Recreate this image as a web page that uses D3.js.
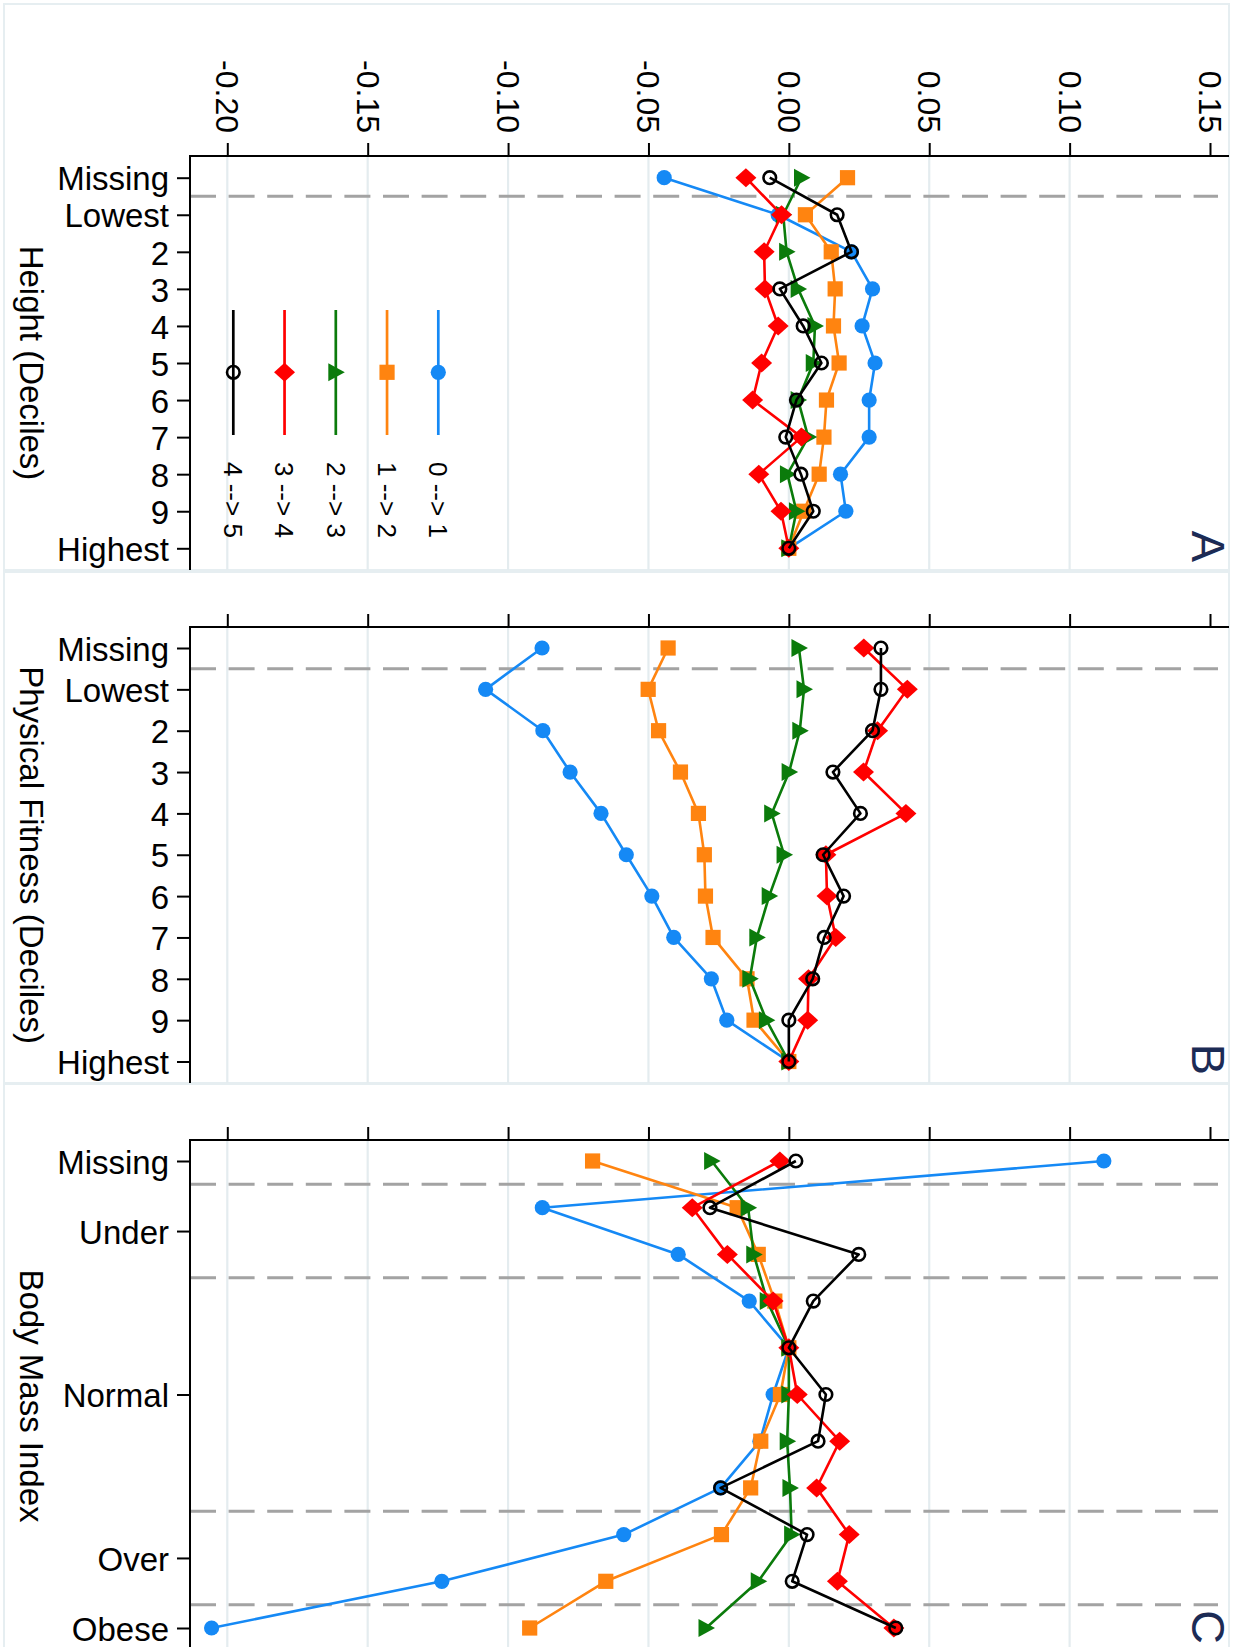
<!DOCTYPE html>
<html><head><meta charset="utf-8">
<script src="https://cdn.jsdelivr.net/npm/d3@7"></script>
<style>
body{margin:0;background:#fff}
text{font-family:"Liberation Sans",Arial,Helvetica,sans-serif}
</style>
</head><body>
<svg id="chart" width="1245" height="1647"></svg>
<script>
// ---------- data ----------
const seriesNames = ["0 --> 1", "1 --> 2", "2 --> 3", "3 --> 4", "4 --> 5"];
const valueTicks = [-0.20, -0.15, -0.10, -0.05, 0.00, 0.05, 0.10, 0.15];
const valueTickLabels = ["-0.20", "-0.15", "-0.10", "-0.05", "0.00", "0.05", "0.10", "0.15"];
const decileCategories = ["Missing", "Lowest", "2", "3", "4", "5", "6", "7", "8", "9", "Highest"];
const bmiPositions = [0, 1, 2, 3, 4, 5, 6, 7, 8, 9, 10];
const bmiTickPositions = [0, 1.5, 5, 8.5, 10];
const bmiTickLabels = ["Missing", "Under", "Normal", "Over", "Obese"];
const bmiGroupBreaks = [0.5, 2.5, 7.5, 9.5];
const panelTitles = ["Height (Deciles)", "Physical Fitness (Deciles)", "Body Mass Index"];
const panelLetters = ["A", "B", "C"];

// Panel A: Height
const height_0to1 = [-0.0444, -0.0038, 0.0223, 0.0298, 0.0261, 0.0307, 0.0286, 0.0286, 0.0184, 0.0203, 0];
const height_1to2 = [0.0209, 0.0059, 0.0151, 0.0165, 0.0159, 0.0179, 0.0134, 0.0125, 0.0108, 0.0053, 0];
const height_2to3 = [0.0045, -0.0020, -0.0008, 0.0033, 0.0093, 0.0087, 0.0033, 0.0069, -0.0005, 0.0027, 0];
const height_3to4 = [-0.0153, -0.0026, -0.0088, -0.0085, -0.0038, -0.0097, -0.0129, 0.0045, -0.0107, -0.0028, 0];
const height_4to5 = [-0.0068, 0.0172, 0.0223, -0.0032, 0.0051, 0.0116, 0.0027, -0.0011, 0.0043, 0.0087, 0];

// Panel B: Physical fitness
const fitness_0to1 = [-0.0879, -0.1080, -0.0876, -0.0779, -0.0669, -0.0579, -0.0488, -0.0410, -0.0276, -0.0221, 0];
const fitness_1to2 = [-0.0430, -0.0501, -0.0464, -0.0386, -0.0322, -0.0301, -0.0297, -0.0270, -0.0149, -0.0124, 0];
const fitness_2to3 = [0.0036, 0.0054, 0.0039, 0.0001, -0.0061, -0.0017, -0.0070, -0.0114, -0.0139, -0.0080, 0];
const fitness_3to4 = [0.0267, 0.0422, 0.0316, 0.0266, 0.0417, 0.0132, 0.0136, 0.0167, 0.0070, 0.0067, 0];
const fitness_4to5 = [0.0328, 0.0328, 0.0298, 0.0157, 0.0255, 0.0122, 0.0195, 0.0126, 0.0085, 0.0000, 0];

// Panel C: Body mass index
const bmi_0to1 = [0.1122, -0.0878, -0.0394, -0.0141, 0, -0.0056, -0.0103, -0.0243, -0.0588, -0.1236, -0.2056];
const bmi_1to2 = [-0.0699, -0.0184, -0.0109, -0.0050, 0, -0.0030, -0.0100, -0.0136, -0.0240, -0.0652, -0.0923];
const bmi_2to3 = [-0.0275, -0.0145, -0.0125, -0.0077, 0, 0.0000, -0.0006, 0.0004, 0.0010, -0.0109, -0.0295];
const bmi_3to4 = [-0.0032, -0.0344, -0.0219, -0.0056, 0, 0.0030, 0.0181, 0.0099, 0.0215, 0.0173, 0.0374];
const bmi_4to5 = [0.0025, -0.0281, 0.0249, 0.0087, 0, 0.0132, 0.0104, -0.0243, 0.0065, 0.0012, 0.0381];

// ---------- styling / layout ----------
const colors = ["#1589f5", "#ff8410", "#0b7b0b", "#ff0000", "#000000"];
const svg = d3.select("#chart");
const FONT = 33;
const axisX = 190, rightX = 1229, leftX = 4;
const x = d3.scaleLinear().domain([-0.20, 0.15]).range([227.3, 1210]);

const panels = [
  { top: 4, bottom: 570, axisY: 156,
    y: d3.scalePoint().domain(decileCategories).range([177.7, 548.3]),
    cats: decileCategories, breaks: [0.5], series: [height_0to1, height_1to2, height_2to3, height_3to4, height_4to5],
    tickLabels: true, legend: true, ordinal: true },
  { top: 572, bottom: 1083, axisY: 627,
    y: d3.scalePoint().domain(decileCategories).range([648, 1061.5]),
    cats: decileCategories, breaks: [0.5], series: [fitness_0to1, fitness_1to2, fitness_2to3, fitness_3to4, fitness_4to5],
    tickLabels: false, legend: false, ordinal: true },
  { top: 1084, bottom: 1652, axisY: 1140,
    y: d3.scaleLinear().domain([0, 10]).range([1161, 1628]),
    cats: bmiPositions, breaks: bmiGroupBreaks, series: [bmi_0to1, bmi_1to2, bmi_2to3, bmi_3to4, bmi_4to5],
    tickLabels: false, legend: false, ordinal: false }
];

function drawMarker(g, i, cx, cy) {
  const c = colors[i];
  if (i === 0) g.append("circle").attr("cx", cx).attr("cy", cy).attr("r", 7.6).attr("fill", c);
  else if (i === 1) g.append("rect").attr("x", cx - 7.6).attr("y", cy - 7.6).attr("width", 15.2).attr("height", 15.2).attr("fill", c);
  else if (i === 2) g.append("path").attr("d", `M${cx - 7.5},${cy - 9}L${cx + 9},${cy}L${cx - 7.5},${cy + 9}Z`).attr("fill", c);
  else if (i === 3) g.append("path").attr("d", `M${cx - 10.5},${cy}L${cx},${cy - 9.5}L${cx + 10.5},${cy}L${cx},${cy + 9.5}Z`).attr("fill", c);
  else g.append("circle").attr("cx", cx).attr("cy", cy).attr("r", 6.3).attr("fill", "none").attr("stroke", c).attr("stroke-width", 2.6);
}

panels.forEach((p, pi) => {
  const g = svg.append("g");
  // panel frame
  g.append("rect").attr("x", leftX).attr("y", p.top).attr("width", rightX - leftX).attr("height", p.bottom - p.top)
    .attr("fill", "none").attr("stroke", "#e6eef1").attr("stroke-width", 2);

  // grid lines
  g.selectAll(".grid").data(valueTicks.filter(v => v < 0.149)).enter().append("line")
    .attr("x1", d => x(d)).attr("x2", d => x(d)).attr("y1", p.axisY).attr("y2", p.bottom)
    .attr("stroke", "#e4ecef").attr("stroke-width", 2.2);

  // dashed group separators
  const yAt = v => p.ordinal ? p.y(p.cats[Math.floor(v)]) + (p.y(p.cats[Math.ceil(v)]) - p.y(p.cats[Math.floor(v)])) * (v - Math.floor(v)) : p.y(v);
  g.selectAll(".dash").data(p.breaks).enter().append("line")
    .attr("x1", axisX).attr("x2", 1218).attr("y1", d => yAt(d)).attr("y2", d => yAt(d))
    .attr("stroke", "#a3a3a3").attr("stroke-width", 3).attr("stroke-dasharray", "26,12.6");

  // top value axis
  const top = d3.axisTop(x).tickValues(valueTicks).tickSize(13).tickSizeOuter(0)
    .tickFormat((d, i) => p.tickLabels ? valueTickLabels[i] : "");
  const ta = g.append("g").attr("transform", `translate(0,${p.axisY})`).call(top);
  ta.select(".domain").remove();
  ta.selectAll(".tick line").attr("stroke", "#000").attr("stroke-width", 2);
  ta.selectAll(".tick text").attr("font-size", 32).attr("fill", "#000")
    .attr("x", 0).attr("y", 0).attr("dy", "0.36em").attr("text-anchor", "end")
    .attr("transform", "translate(0,-23) rotate(90)");
  g.append("line").attr("x1", axisX - 1).attr("x2", rightX).attr("y1", p.axisY).attr("y2", p.axisY)
    .attr("stroke", "#000").attr("stroke-width", 2);

  // left category axis
  let left = d3.axisLeft(p.y).tickSize(13).tickPadding(8).tickSizeOuter(0);
  if (!p.ordinal) left = left.tickValues(bmiTickPositions).tickFormat((d, i) => bmiTickLabels[i]);
  const la = g.append("g").attr("transform", `translate(${axisX},0)`).call(left);
  la.select(".domain").remove();
  la.selectAll(".tick line").attr("stroke", "#000").attr("stroke-width", 2);
  la.selectAll(".tick text").attr("font-size", FONT).attr("fill", "#000").attr("dy", "0.37em");
  g.append("line").attr("x1", axisX).attr("x2", axisX).attr("y1", p.axisY - 1).attr("y2", p.bottom)
    .attr("stroke", "#000").attr("stroke-width", 2);

  // axis title
  const cy = (p.axisY + p.bottom) / 2;
  g.append("text").attr("transform", `translate(19.5,${cy}) rotate(90)`).attr("text-anchor", "middle")
    .attr("font-size", FONT).attr("fill", "#000").text(panelTitles[pi]);

  // panel letter
  g.append("text").attr("transform", `translate(1192,${p.bottom - 8}) rotate(90)`).attr("text-anchor", "end")
    .attr("font-size", 47).attr("fill", "#1c2b55").text(panelLetters[pi]);

  // series
  p.series.forEach((vals, si) => {
    const sg = g.append("g");
    const pts = vals.map((v, k) => ({ v, c: p.cats[k] }));
    const line = d3.line().x(d => x(d.v)).y(d => p.y(d.c));
    sg.append("path").attr("d", line(pts)).attr("fill", "none").attr("stroke", colors[si])
      .attr("stroke-width", 2.6).attr("stroke-linejoin", "round");
    pts.forEach(d => drawMarker(sg, si, x(d.v), p.y(d.c)));
  });

  // legend
  if (p.legend) {
    seriesNames.forEach((name, si) => {
      const lx = 438.3 - si * 51.25;
      const lg = g.append("g");
      lg.append("line").attr("x1", lx).attr("x2", lx).attr("y1", 310).attr("y2", 435)
        .attr("stroke", colors[si]).attr("stroke-width", 2.7);
      drawMarker(lg, si, lx, 372.3);
      lg.append("text").attr("transform", `translate(${lx},462) rotate(90)`).attr("dy", "0.35em")
        .attr("text-anchor", "start").attr("font-size", 26).attr("fill", "#000").text(name);
    });
  }
});
</script>
</body></html>
